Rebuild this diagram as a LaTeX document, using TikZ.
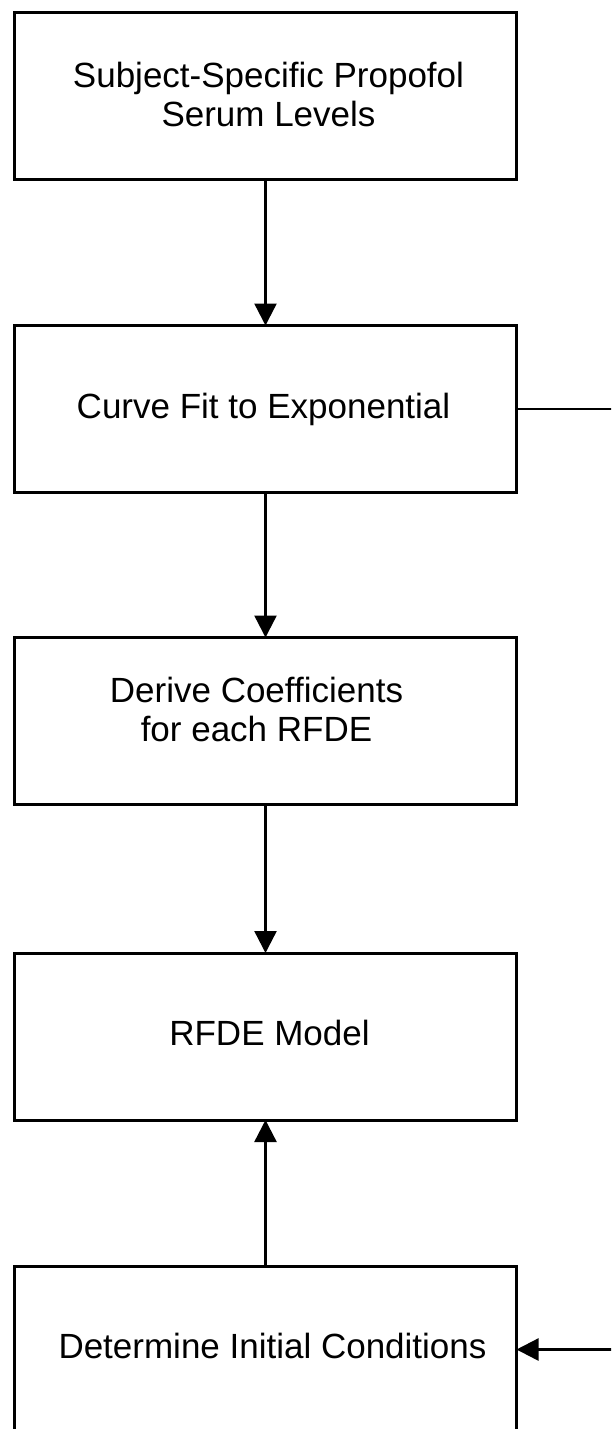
\documentclass[tikz,border=0pt]{standalone}
\usepackage{fontspec}
\setmainfont{Liberation Sans}
\usetikzlibrary{arrows.meta,calc}
\begin{document}
\begin{tikzpicture}[x=1pt,y=-1pt,
  stepbox/.style={draw,line width=3pt,minimum width=502pt,minimum height=167pt,inner sep=0pt,outer sep=0pt},
  steptext/.style={font=\fontsize{35pt}{39pt}\selectfont,align=center,inner sep=0pt},
  flow/.style={line width=2.4pt,-{Triangle[width=22pt,length=22pt]}},
  plain/.style={line width=2.4pt}]
\useasboundingbox (0,0) rectangle (611,1429);
\clip (0,0) rectangle (611,1429);
\fill[white] (0,0) rectangle (611,1429);

% process boxes
\node[stepbox] (b1) at (265.5,96) {};
\node[stepbox] (b2) at (265.5,409) {};
\node[stepbox] (b3) at (265.5,721) {};
\node[stepbox] (b4) at (265.5,1036.5) {};
\node[stepbox] (b5) at (265.5,1349.5) {};

% box captions
\node[steptext] (t1) at ($(b1.center)+(3,-2)$) {Subject-Specific Propofol\\Serum Levels};
\node[steptext] (t2) at ($(b2.center)+(-2,0)$) {Curve Fit to Exponential};
\node[steptext] (t3) at ($(b3.center)+(-9,-12)$) {Derive Coefficients\\for each RFDE};
\node[steptext] (t4) at ($(b4.center)+(4,-4)$) {RFDE Model};
\node[steptext] (t5) at ($(b5.center)+(7,-4)$) {Determine Initial Conditions};

% side branch leaving the page on the right
\coordinate (r2) at (613,409);
\coordinate (r5) at (613,1349.5);

% connectors
\draw[flow] (b1) -- (b2);
\draw[flow] (b2) -- (b3);
\draw[flow] (b3) -- (b4);
\draw[flow] (b5) -- (b4);
\draw[plain] (b2.east) -- (r2);
\draw[flow] (r5) -- (b5.east);
\end{tikzpicture}
\end{document}
